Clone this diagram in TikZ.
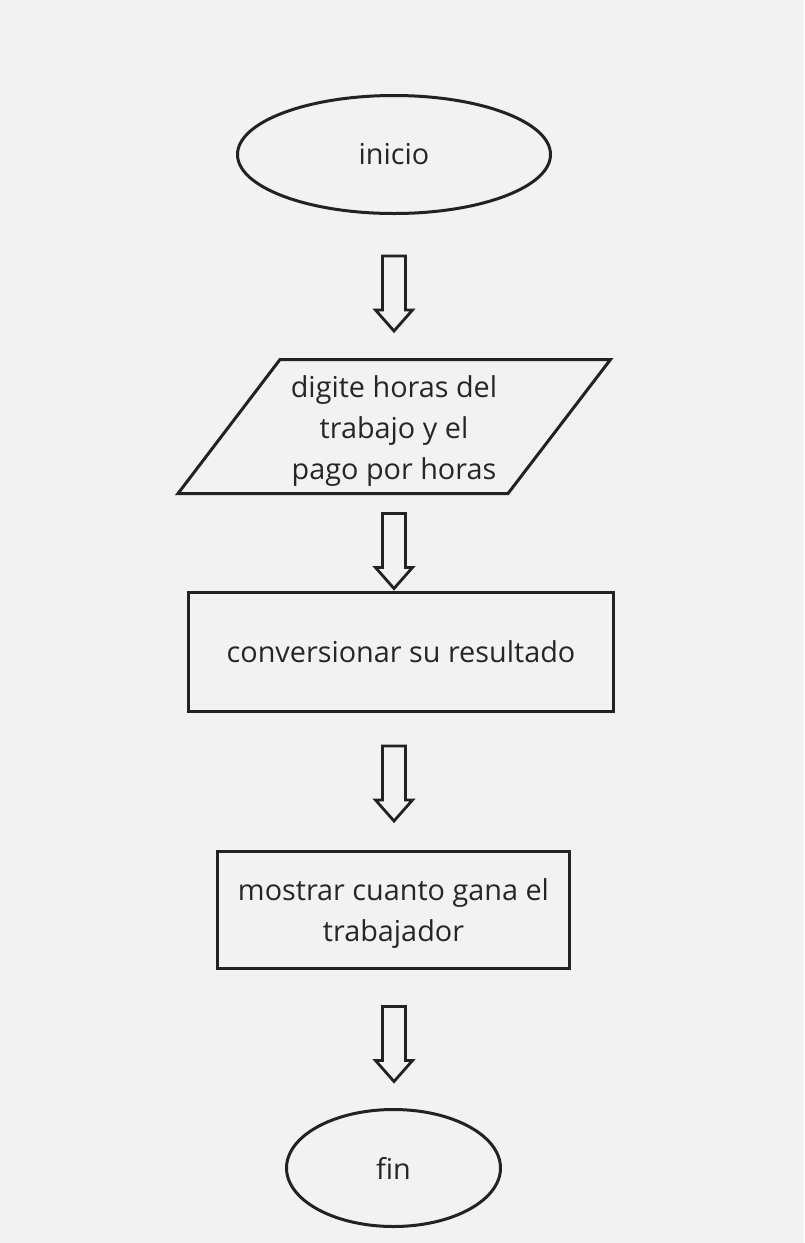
\documentclass[tikz,border=0pt]{standalone}
\usepackage{fontspec}
\setmainfont{Open Sans}
\usetikzlibrary{shapes.geometric}
\definecolor{bg}{HTML}{F2F2F2}
\definecolor{ink}{HTML}{222222}
\definecolor{txt}{HTML}{262626}
\tikzset{
  base/.style={draw=ink, line width=1.5pt, text=txt, font=\fontsize{14.4pt}{20.5pt}\selectfont, align=center, inner sep=0pt},
  term/.style={base, ellipse},
  procbox/.style={base, rectangle},
  textonly/.style={base, draw=none},
  blockarrow/.style={draw=ink, line width=1.4pt, fill=bg, line join=miter},
  pics/downarrow/.style={code={
    \draw[blockarrow] (-11.5,-37) -- (11.5,-37) -- (11.5,17) -- (18.5,17) -- (0,38)
      -- (-18.5,17) -- (-11.5,17) -- cycle;
  }},
}
\begin{document}
\begin{tikzpicture}[x=0.5pt,y=-0.5pt]
\useasboundingbox (0,0) rectangle (804,1243);
\fill[bg] (0,0) rectangle (804,1243);

\node[term, minimum width=156.5pt, minimum height=59pt] (inicio) at (394,154.5) {inicio};

\coordinate (a1) at (394,293);
\pic at (a1) {downarrow};

\draw[draw=ink, line width=1.5pt] (280,359.5) -- (610.5,359.5) -- (508,493.5) -- (178,493.5) -- cycle;
\node[textonly] (entrada) at (394,431) {digite horas del\\trabajo y el\\pago por horas};

\coordinate (a2) at (394,550.5);
\pic at (a2) {downarrow};

\node[procbox, minimum width=212.5pt, minimum height=59.5pt] (conv) at (401,652) {conversionar su resultado};

\coordinate (a3) at (394,783);
\pic at (a3) {downarrow};

\node[procbox, minimum width=176pt, minimum height=58.5pt] (mostrar) at (393.5,910) {};
\node[textonly] (mostrartxt) at (393.5,914) {mostrar cuanto gana el\\trabajador};

\coordinate (a4) at (394,1043.5);
\pic at (a4) {downarrow};

\node[term, minimum width=107pt, minimum height=58.5pt] (fin) at (393.5,1168) {fin};
\end{tikzpicture}
\end{document}
